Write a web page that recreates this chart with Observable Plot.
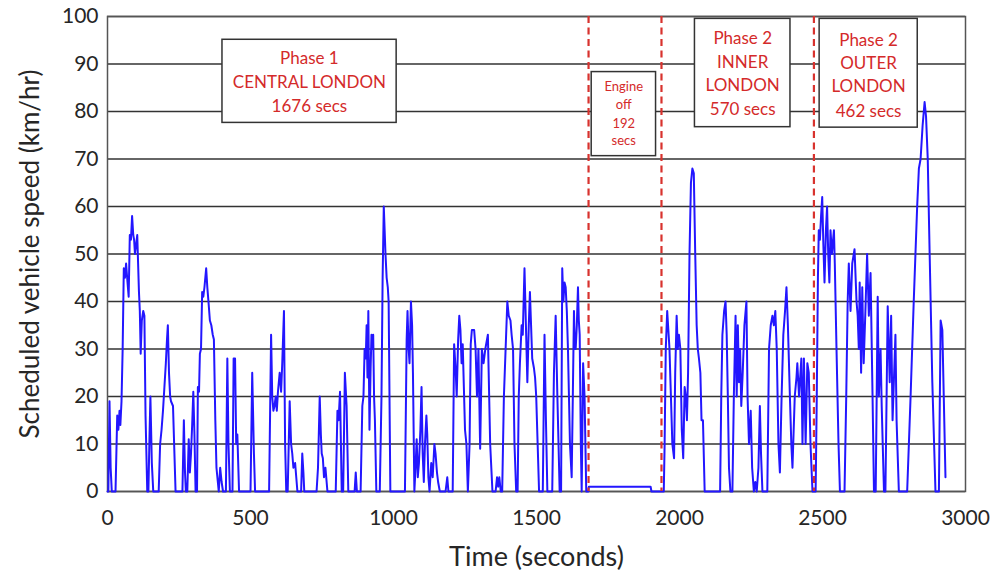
<!DOCTYPE html>
<html><head><meta charset="utf-8">
<script src="https://cdn.jsdelivr.net/npm/d3@7"></script>
<script src="https://cdn.jsdelivr.net/npm/@observablehq/plot@0.6"></script>
<style>body{margin:0;background:#fff;}</style>
</head><body><div id="chart"></div>
<script>
// Time (s) and scheduled speed (km/h)
const time = [
0,3,7,11,15,28,34,38,42,45,49,53,57,61,65,70,74,78,82,86,90,93,96,100,104,107,110,113,116,120,125,129,133,139,143,147,150,155,160,
179,184,189,194,199,204,208,211,215,219,222,229,238,262,267,271,274,279,284,288,292,296,300,304,308,313,316,320,323,327,331,335,339,345,349,353,358,363,368,372,377,381,389,394,399,404,414,419,423,428,437,441,446,450,454,460,
500,506,512,516,565,572,576,580,584,588,592,596,602,607,611,617,621,625,630,637,642,646,650,656,660,664,677,681,685,688,731,736,742,746,749,753,757,762,769,798,804,808,813,819,824,830,836,842,864,868,872,885,891,895,899,
903,906,909,912,916,920,923,926,929,932,935,940,952,958,962,966,969,972,976,980,983,989,1040,1046,1049,1053,1056,1061,1065,1068,1073,1077,1081,1085,1089,1094,1098,1102,1106,1110,1115,1118,1122,1126,1132,1137,1143,1147,1152,1156,1162,1182,1188,1192,
1207,1212,1217,1221,1226,1230,1234,1238,1242,1246,1250,1255,1260,1266,1270,1274,1282,1287,1292,1297,1303,1309,1315,1321,1330,1338,1346,1357,1362,1366,1370,1375,
1380,1386,1392,1398,1403,1409,1413,1418,1423,1429,1434,1438,1442,1448,1452,1458,1463,1468,1473,1477,1481,1485,1491,1495,1499,1504,1509,1522,1528,1533,1538,1555,1561,1567,1573,1581,1586,1590,1594,1598,1602,1606,1610,1617,1623,1627,1631,1634,1637,1641,1645,1648,1651,1655,1658,1663,1668,1674,1681,
1683,1899,1902,1945,
1948,1952,1957,1961,1965,1970,1975,1981,1985,1990,1994,1998,2003,2008,2013,2018,2022,2026,2030,2035,2040,2045,2050,2055,2060,2064,2068,2073,2077,2082,2088,2142,2146,2150,2156,2161,2165,2169,2173,2178,2185,2190,2196,2200,2204,2208,2212,2216,2221,2227,2234,2238,2243,2249,2254,2260,2265,2270,2276,2281,2285,2290,
2307,2313,2319,2325,2330,2335,2340,2346,2351,2357,2363,2369,2374,2379,2386,2391,2395,2403,2409,2412,2418,2426,2430,2435,2441,2447,2452,2458,2465,2476,
2480,2484,2487,2491,2495,2499,2503,2507,2512,2516,2520,2524,2528,2533,2537,2540,2543,2549,2556,2561,2577,2583,2588,2592,2598,2604,2612,2619,2623,2627,2630,2635,2639,2644,2650,2656,2662,2668,2675,2680,2686,2693,2697,2703,2707,2715,2720,2728,2735,2740,2745,2755,2759,2767,
2796,2808,2819,2831,2837,2843,2850,2857,2862,2868,2875,2884,2895,2907,2913,2919,2924,2930
];
const speed = [
0,0,19,5,0,0,16,13,17,14,19,30,47,45,48,44,41,54,53,58,54,53,50,52,54,48,42,38,29,36,38,37,16,0,0,12,20,6,0,
0,10,13,17,22,27,32,35,25,20,19,18,0,0,15,4,0,0,11,4,8,14,21,12,0,0,22,21,29,30,42,41,43,47,43,40,36,35,33,32,15,5,0,5,2,0,0,28,10,0,0,28,28,10,12,0,
0,25,8,0,0,33,20,17,18,20,17,21,25,21,27,38,10,0,0,19,10,8,5,6,3,0,0,8,4,0,0,5,20,12,8,7,3,5,0,0,17,15,21,0,0,25,18,0,0,4,0,0,18,20,30,
28,35,24,38,13,26,33,30,33,20,15,0,0,20,45,60,55,50,45,43,40,0,0,32,38,30,27,40,35,25,0,5,11,3,6,13,22,8,2,10,16,12,3,0,6,3,10,8,4,2,0,0,3,0,
0,31,26,20,32,37,34,27,31,22,13,10,0,10,31,34,34,30,20,30,9,30,27,30,33,10,0,0,3,1,3,0,
0,20,30,40,37,36,33,30,10,0,0,20,27,35,33,47,35,23,35,42,35,28,26,24,20,10,0,0,33,15,0,0,25,37,20,0,0,47,40,44,43,38,30,10,3,20,38,30,30,35,43,36,33,10,0,27,20,0,0,
1,1,0,0,
10,30,38,34,30,20,10,7,25,37,30,33,30,13,7,22,20,15,25,50,65,68,67,50,35,30,28,25,15,15,0,0,20,33,38,40,33,20,5,0,0,20,37,20,35,23,30,18,25,35,40,20,10,17,5,0,2,0,5,18,8,0,
0,30,35,37,35,38,30,10,4,20,33,38,43,35,20,10,5,20,24,27,20,28,10,28,10,27,25,10,0,0,
20,45,55,53,58,62,52,44,55,60,50,44,55,50,53,55,48,30,10,0,0,20,40,48,38,48,51,40,37,30,44,25,43,27,38,50,37,46,20,0,0,41,20,30,18,0,0,39,23,37,15,33,15,0,
0,20,40,60,68,70,77,82,79,70,49,23,0,0,36,34,20,3
];
const xTicks = [0, 500, 1000, 1500, 2000, 2500, 3000];
const yTicks = [0, 10, 20, 30, 40, 50, 60, 70, 80, 90, 100];
const phaseBoundaries = [1682, 1937, 2470];

// Annotation boxes (data units)
const boxNames = ["phase1", "engine", "inner", "outer"];
const boxX1 = [402, 1693, 2054, 2490];
const boxX2 = [1011, 1918, 2388, 2833];
const boxY1 = [77.6, 70.6, 76.7, 76.6];
const boxY2 = [95.1, 88.3, 99.5, 99.5];

// Box labels
const labelBox  = ["phase1","phase1","phase1","engine","engine","engine","engine","inner","inner","inner","inner","outer","outer","outer","outer"];
const labelText = ["Phase 1","CENTRAL LONDON","1676 secs","Engine","off","192","secs","Phase 2","INNER","LONDON","570 secs","Phase 2","OUTER","LONDON","462 secs"];
const labelX    = [706,706,706,1805,1805,1805,1805,2221,2221,2221,2221,2661,2661,2661,2661];
const labelY    = [91.1,86.2,81.05,85.1,81.5,77.5,73.9,95.3,90.4,85.5,80.4,94.9,90.2,85.3,80.06];

const trace = time.map((t, i) => ({t, v: speed[i]}));
const boxes = boxNames.map((n, i) => ({n, x1: boxX1[i], x2: boxX2[i], y1: boxY1[i], y2: boxY2[i]}));
const labels = labelText.map((s, i) => ({s, box: labelBox[i], x: labelX[i], y: labelY[i]}));
const bigLabels = labels.filter(d => d.box !== "engine");
const smallLabels = labels.filter(d => d.box === "engine");

const chart = Plot.plot({
  width: 992, height: 575,
  marginLeft: 107, marginRight: 27, marginTop: 16, marginBottom: 84,
  style: {fontFamily: "Lato, 'Open Sans', sans-serif", fontSize: "21px", color: "#262626", background: "#fff"},
  x: {domain: [0, 3000]},
  y: {domain: [0, 100]},
  marks: [
    Plot.ruleY(yTicks, {stroke: "#333", strokeWidth: 1.5}),
    Plot.frame({stroke: "#555", strokeWidth: 1.5}),
    Plot.line(trace, {x: "t", y: "v", stroke: "#2316ff", strokeWidth: 2}),
    Plot.ruleX(phaseBoundaries, {stroke: "#d8322e", strokeWidth: 2.2, strokeDasharray: "7,4.5"}),
    Plot.rect(boxes, {x1: "x1", x2: "x2", y1: "y1", y2: "y2", fill: "white", stroke: "#333", strokeWidth: 1.5}),
    Plot.text(bigLabels, {x: "x", y: "y", text: "s", fill: "#d42a2a", fontSize: 17}),
    Plot.text(smallLabels, {x: "x", y: "y", text: "s", fill: "#d42a2a", fontSize: 13}),
    Plot.axisX(xTicks, {tickSize: 0, tickPadding: 19, label: null, tickFormat: d => String(d), fontSize: 21}),
    Plot.axisY(yTicks, {tickSize: 0, tickPadding: 9, label: null, tickFormat: d => String(d), fontSize: 21}),
    Plot.text(["Time (seconds)"], {text: d => d, frameAnchor: "bottom", dy: 66, lineAnchor: "middle", textAnchor: "middle", fontSize: 27}),
    Plot.text(["Scheduled vehicle speed (km/hr)"], {text: d => d, frameAnchor: "left", dx: -77, rotate: -90, lineAnchor: "middle", textAnchor: "middle", fontSize: 26})
  ]
});
document.getElementById("chart").appendChild(chart);
</script>
</body></html>
